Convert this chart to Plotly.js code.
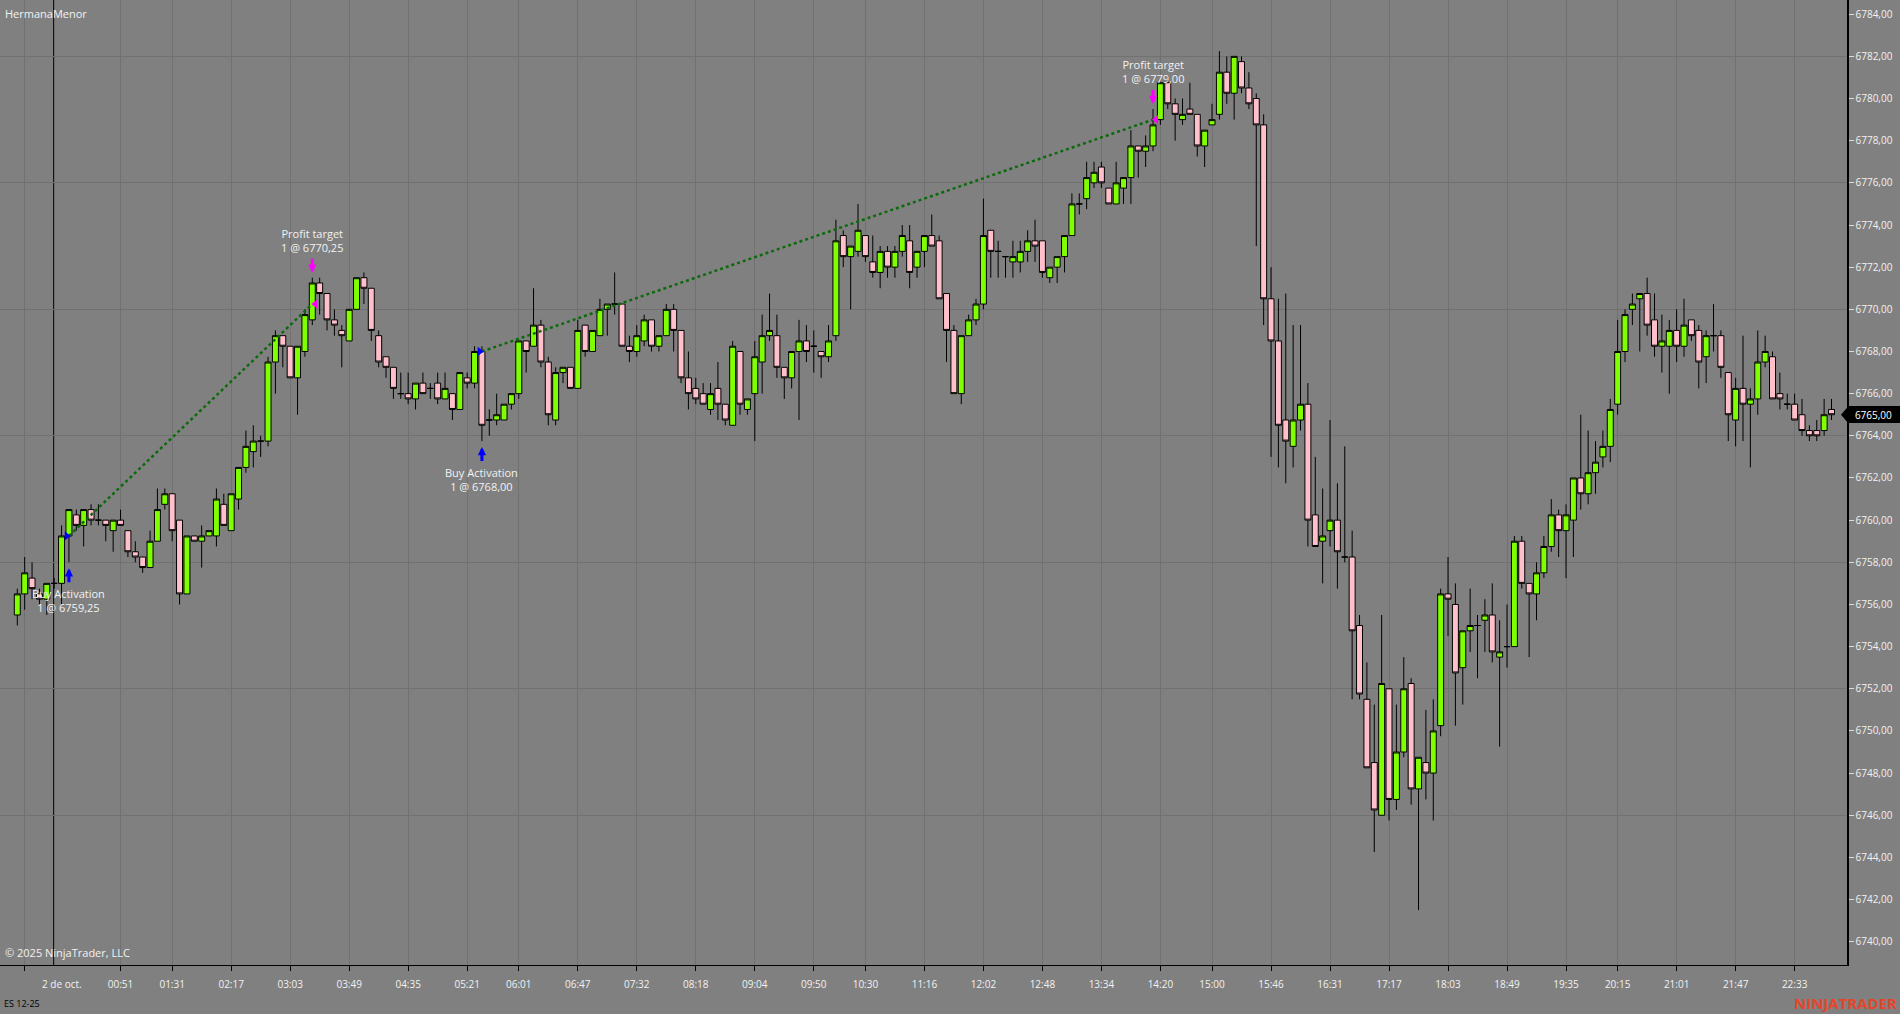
<!DOCTYPE html>
<html>
<head>
<meta charset="utf-8">
<script src="https://cdn.plot.ly/plotly-3.0.1.min.js"></script>
<style>html,body{margin:0;padding:0;background:#808080;overflow:hidden}</style>
</head>
<body>
<div id="chart" style="width:1900px;height:1014px"></div>
<script>
// ---- Data (ES 12-25, one candle per bar index) ----
const candleOpen = [
6755.5,6756.5,6757.25,6756.5,6756.25,6757.0,6757.0,6759.25,6760.25,6759.75,
6760.5,6760.0,6760.0,6759.5,6760.0,6759.5,6758.5,6758.25,6757.75,6759.0,
6760.75,6761.25,6760.0,6756.5,6759.25,6759.0,6759.25,6759.25,6760.75,6759.5,
6761.0,6762.5,6763.25,6763.75,6763.75,6767.5,6768.75,6768.25,6766.75,6768.0,
6769.5,6771.25,6770.75,6769.5,6769.0,6768.5,6770.0,6771.5,6771.0,6768.75,
6767.75,6767.25,6766.0,6766.0,6765.75,6766.5,6766.25,6766.5,6765.75,6766.0,
6765.25,6766.75,6766.5,6768.0,6764.75,6764.75,6764.75,6765.5,6766.0,6768.5,
6768.25,6769.25,6767.5,6764.75,6767.0,6767.25,6766.25,6769.25,6768.0,6768.75,
6770.0,6770.25,6770.25,6768.25,6768.0,6768.5,6769.5,6768.25,6768.75,6770.0,
6769.0,6766.75,6766.25,6766.0,6765.25,6766.25,6765.5,6764.5,6768.0,6765.25,
6766.0,6767.5,6768.75,6768.75,6767.25,6766.75,6768.0,6768.5,6768.25,6768.0,
6767.75,6768.75,6773.5,6772.5,6772.75,6773.5,6772.25,6771.75,6772.75,6772.0,
6772.75,6773.25,6772.0,6772.75,6773.5,6773.25,6770.75,6769.0,6766.0,6768.75,
6769.5,6770.25,6773.75,6772.75,6772.5,6772.25,6772.25,6772.75,6773.25,6773.25,
6771.5,6772.0,6772.5,6773.5,6775.0,6775.25,6776.0,6776.75,6775.75,6775.0,
6775.75,6776.25,6777.75,6777.5,6777.75,6779.0,6780.75,6779.75,6779.0,6779.5,
6779.25,6777.75,6778.75,6779.25,6781.25,6780.25,6781.75,6780.5,6780.0,6778.75,
6770.5,6768.5,6764.75,6763.5,6764.75,6765.5,6760.25,6759.0,6759.5,6760.0,
6758.25,6758.25,6755.0,6751.5,6748.5,6746.0,6752.0,6746.75,6749.0,6752.25,
6747.25,6748.5,6748.0,6750.25,6756.5,6756.0,6753.0,6754.75,6755.0,6755.25,
6755.5,6753.5,6754.0,6754.0,6759.0,6757.0,6756.5,6757.5,6758.75,6760.25,
6759.5,6760.0,6762.0,6761.25,6762.25,6763.0,6763.5,6765.5,6768.0,6770.0,
6770.5,6770.75,6769.5,6768.25,6768.25,6769.0,6768.25,6769.5,6769.0,6767.75,
6768.75,6768.75,6767.0,6764.75,6766.25,6765.5,6765.75,6767.5,6767.75,6766.0,
6765.5,6765.5,6765.0,6764.25,6764.25,6764.25,6765.25
];
const candleHigh = [
6756.75,6758.25,6758.0,6756.75,6757.0,6757.25,6759.75,6760.5,6760.5,6760.5,
6760.75,6760.75,6760.0,6760.0,6760.5,6759.5,6759.0,6758.25,6759.5,6761.5,
6761.5,6761.25,6760.0,6759.25,6759.25,6759.75,6759.5,6761.5,6761.25,6761.25,
6762.5,6764.25,6764.5,6764.0,6767.75,6769.0,6768.75,6768.25,6768.25,6770.0,
6771.5,6771.5,6770.75,6770.0,6769.25,6770.0,6771.5,6771.75,6771.0,6769.0,
6767.75,6767.25,6767.0,6767.0,6766.5,6767.0,6766.5,6767.0,6767.0,6766.0,
6767.0,6767.0,6768.25,6768.25,6765.25,6766.0,6765.5,6766.0,6768.5,6768.5,
6771.0,6769.5,6767.75,6767.25,6767.25,6767.25,6769.5,6769.25,6769.0,6770.5,
6770.25,6771.75,6770.25,6768.75,6769.25,6769.75,6769.5,6768.75,6770.25,6770.25,
6769.0,6768.0,6766.75,6766.5,6766.5,6767.5,6765.5,6768.5,6768.0,6765.75,
6768.5,6769.75,6770.75,6769.75,6767.25,6768.0,6769.5,6769.25,6769.0,6768.0,
6769.25,6774.25,6773.75,6773.0,6775.0,6773.5,6773.5,6773.0,6773.0,6773.0,
6774.0,6774.0,6772.75,6773.5,6774.5,6773.5,6770.75,6769.25,6768.75,6769.75,
6770.5,6775.25,6773.75,6773.25,6772.5,6773.25,6773.25,6773.75,6774.25,6773.25,
6772.0,6772.5,6773.5,6775.5,6775.5,6777.0,6777.0,6777.0,6775.75,6777.0,
6776.25,6778.5,6777.75,6778.25,6779.5,6780.75,6781.0,6780.0,6780.0,6780.75,
6779.25,6778.5,6779.75,6782.25,6782.0,6782.0,6782.0,6781.25,6780.25,6779.25,
6772.0,6770.5,6770.75,6769.25,6769.25,6766.5,6763.0,6761.5,6764.75,6761.75,
6763.5,6759.5,6755.5,6753.25,6751.25,6755.5,6752.0,6751.25,6753.5,6752.5,
6748.75,6751.0,6751.5,6756.75,6758.25,6757.0,6754.75,6756.75,6755.5,6756.25,
6757.0,6755.25,6756.0,6759.25,6759.25,6757.0,6758.0,6759.25,6761.0,6760.5,
6760.75,6762.0,6765.0,6764.25,6763.75,6764.25,6765.75,6769.5,6770.0,6770.75,
6770.75,6771.5,6770.75,6769.75,6769.5,6770.0,6770.5,6769.5,6769.25,6769.0,
6770.25,6769.0,6767.0,6766.75,6768.75,6766.25,6769.0,6768.75,6768.0,6767.0,
6766.0,6766.0,6765.75,6764.5,6764.75,6765.75,6765.75
];
const candleLow = [
6755.0,6755.75,6756.25,6756.0,6755.5,6756.75,6756.0,6758.0,6759.5,6758.75,
6759.75,6759.75,6759.0,6758.5,6759.75,6758.25,6758.0,6757.5,6757.75,6759.0,
6760.5,6759.0,6756.0,6756.5,6759.0,6757.75,6759.25,6758.75,6759.75,6759.5,
6760.5,6762.25,6762.5,6763.0,6763.5,6766.0,6767.25,6766.75,6765.0,6767.75,
6769.25,6769.75,6769.0,6768.75,6767.25,6768.5,6770.0,6770.25,6768.5,6767.25,
6766.75,6765.75,6765.75,6765.5,6765.25,6766.0,6765.75,6765.5,6765.75,6764.75,
6765.25,6766.25,6766.25,6763.75,6764.0,6764.5,6764.75,6765.25,6765.75,6767.0,
6768.25,6767.25,6764.5,6764.5,6766.5,6766.25,6766.25,6767.75,6768.0,6768.75,
6768.75,6769.75,6768.25,6767.5,6767.75,6768.25,6768.0,6768.0,6768.75,6768.0,
6766.5,6765.25,6765.5,6765.5,6765.0,6764.75,6764.5,6764.5,6765.0,6765.0,
6763.75,6766.0,6768.5,6766.75,6765.75,6766.25,6764.75,6767.5,6767.0,6766.75,
6767.5,6768.5,6772.0,6770.0,6772.5,6772.25,6771.5,6771.0,6771.5,6771.5,
6772.5,6771.0,6771.5,6772.0,6773.0,6770.5,6767.5,6766.0,6765.5,6768.75,
6769.25,6770.0,6771.5,6771.5,6771.5,6771.5,6771.75,6772.25,6772.25,6771.5,
6771.25,6771.25,6771.75,6773.5,6774.5,6774.75,6775.75,6775.75,6775.0,6775.0,
6775.0,6775.0,6776.25,6776.75,6777.5,6778.75,6779.5,6778.0,6778.75,6779.25,
6777.25,6776.75,6778.75,6779.0,6779.75,6779.0,6780.25,6779.5,6773.0,6769.25,
6763.0,6762.5,6761.75,6762.5,6764.25,6758.75,6758.75,6757.0,6758.75,6756.75,
6758.0,6751.5,6751.5,6748.25,6744.25,6746.0,6745.75,6746.25,6748.75,6746.5,
6741.5,6746.75,6745.75,6749.75,6754.5,6750.25,6751.25,6753.75,6752.5,6753.75,
6753.25,6749.25,6753.0,6754.0,6756.75,6753.5,6755.25,6757.25,6758.5,6758.25,
6757.25,6758.25,6760.5,6760.75,6761.25,6762.5,6762.75,6765.0,6767.5,6769.25,
6768.0,6768.75,6767.75,6767.0,6766.0,6767.5,6767.75,6768.5,6766.25,6766.5,
6768.0,6766.75,6763.75,6763.5,6763.75,6762.5,6765.0,6767.25,6765.75,6765.25,
6765.25,6764.75,6764.0,6763.75,6763.75,6764.0,6764.75
];
const candleClose = [
6756.5,6757.5,6756.75,6756.25,6757.0,6757.0,6759.25,6760.5,6759.75,6760.5,
6760.0,6760.0,6759.75,6760.0,6759.75,6758.5,6758.25,6757.75,6759.0,6760.5,
6761.25,6759.5,6756.5,6759.25,6759.0,6759.25,6759.5,6761.0,6759.75,6761.25,
6762.5,6763.5,6763.75,6763.75,6767.5,6768.75,6768.25,6766.75,6768.25,6769.75,
6771.25,6770.75,6769.5,6769.25,6768.75,6770.0,6771.5,6771.0,6769.0,6767.5,
6767.25,6766.25,6766.0,6765.75,6766.5,6766.0,6766.25,6765.75,6766.25,6765.25,
6767.0,6766.5,6768.0,6764.5,6764.75,6765.0,6765.5,6766.0,6768.5,6768.0,
6769.25,6767.5,6765.0,6767.0,6767.25,6766.25,6769.0,6768.0,6769.0,6770.0,
6770.25,6770.25,6768.25,6768.0,6768.75,6769.5,6768.25,6768.75,6770.0,6769.0,
6766.75,6766.0,6765.75,6765.5,6766.0,6765.5,6764.75,6768.25,6765.5,6765.75,
6767.75,6768.75,6769.0,6767.25,6766.75,6768.0,6768.5,6768.0,6768.25,6767.75,
6768.5,6773.25,6772.5,6773.0,6773.75,6772.5,6771.75,6772.75,6772.0,6772.75,
6773.5,6771.75,6772.75,6773.5,6773.0,6770.5,6769.0,6766.0,6768.75,6769.5,
6770.25,6773.5,6772.75,6772.75,6772.5,6772.5,6772.75,6773.25,6773.0,6771.75,
6772.0,6772.5,6773.5,6775.0,6775.0,6776.25,6776.5,6776.0,6775.0,6776.0,
6776.25,6777.75,6777.5,6777.75,6778.75,6780.75,6779.75,6779.25,6779.25,6779.25,
6777.75,6778.5,6779.0,6781.25,6780.25,6782.0,6780.5,6779.75,6778.75,6770.5,
6768.5,6764.5,6763.75,6764.75,6765.5,6760.0,6758.75,6759.25,6760.0,6758.5,
6758.25,6754.75,6751.75,6748.25,6746.25,6752.25,6746.75,6749.0,6752.0,6747.25,
6748.75,6748.0,6750.0,6756.5,6756.25,6752.75,6754.75,6755.0,6755.0,6755.5,
6753.75,6753.75,6754.0,6759.0,6757.0,6756.5,6757.5,6758.75,6760.25,6759.5,
6760.25,6762.0,6761.25,6762.25,6762.75,6763.5,6765.25,6768.0,6769.75,6770.25,
6770.75,6769.25,6768.25,6768.5,6769.0,6768.25,6769.25,6768.75,6767.5,6768.75,
6768.75,6767.25,6765.0,6766.25,6765.5,6765.75,6767.5,6768.0,6765.75,6765.75,
6765.5,6764.75,6764.25,6764.0,6764.0,6765.0,6765.0
];

// x-axis ticks (bar index -> time label)
const xTickBars = [1,14,21,29,37,45,53,61,68,76,84,92,100,108,115,123,131,139,147,155,162,170,178,186,194,202,210,217,225,233,241];
const xTickLabels = ['','00:51','01:31','02:17','03:03','03:49','04:35','05:21','06:01','06:47','07:32','08:18','09:04','09:50','10:30','11:16','12:02','12:48','13:34','14:20','15:00','15:46','16:31','17:17','18:03','18:49','19:35','20:15','21:01','21:47','22:33'];
const dateLabel = '2 de oct.';
const dateLabelBar = 6;
const sessionBreakBar = 4.93;

// y-axis
const yTickValues = [6740,6742,6744,6746,6748,6750,6752,6754,6756,6758,6760,6762,6764,6766,6768,6770,6772,6774,6776,6778,6780,6782,6784];
const yGridValues = [6746,6752,6758,6764,6770,6776,6782];

// executions
const entryBars = [7, 63];
const entryPrices = [6759.25, 6768.00];
const exitBars = [40, 154];
const exitPrices = [6770.25, 6779.00];
const tradeQty = [1, 1];
const entryName = 'Buy Activation';
const exitName = 'Profit target';

// texts
const instrumentLabel = 'ES 12-25';
const indicatorLabel = 'HermanaMenor';
const copyrightLabel = '\u00a9 2025 NinjaTrader, LLC';
const brandLabel = 'NINJATRADER';

// ---- Build ----
const fmt = v => v.toFixed(2).replace('.', ',');
const barIndex = candleOpen.map((_, i) => i);
const nBars = candleOpen.length;
const lastClose = candleClose[nBars - 1];

const xMin = -2.346, xMax = 248.10;
const yMax = 6784.674, yMin = 6738.896;

const gridColor = '#717171';
const textColor = '#f2f2f2';
const fontFamily = 'Open Sans, sans-serif';

const traces = [{
  type: 'candlestick',
  x: barIndex, open: candleOpen, high: candleHigh, low: candleLow, close: candleClose,
  increasing: {fillcolor: '#80FF00', line: {color: '#000000', width: 1}},
  decreasing: {fillcolor: '#FFC0CB', line: {color: '#000000', width: 1}},
  whiskerwidth: 0, hoverinfo: 'skip', showlegend: false
}];

entryBars.forEach((b, k) => {
  traces.push({
    type: 'scatter', mode: 'lines', yaxis: 'y2',
    x: [b, exitBars[k]], y: [entryPrices[k], exitPrices[k]],
    line: {color: '#0c6a0c', width: 2.5, dash: 'dot'},
    hoverinfo: 'skip', showlegend: false
  });
});
traces.push({
  type: 'scatter', mode: 'markers', yaxis: 'y2',
  x: entryBars.map(b => b - 0.3), y: entryPrices,
  marker: {symbol: 'triangle-right', size: 8, color: '#0000ff'},
  hoverinfo: 'skip', showlegend: false
});
traces.push({
  type: 'scatter', mode: 'markers', yaxis: 'y2',
  x: exitBars.map(b => b + 0.4), y: exitPrices,
  marker: {symbol: 'triangle-left', size: 8, color: '#ff00ff'},
  hoverinfo: 'skip', showlegend: false
});

const arrowFont = {size: 1, color: 'rgba(0,0,0,0)'};
const annotations = [];
entryBars.forEach((b, k) => {
  annotations.push({
    x: b, y: candleLow[b], xref: 'x', yref: 'y', text: ' ', font: arrowFont, borderpad: 0,
    showarrow: true, ax: 0, ay: 15, arrowhead: 2, arrowsize: 0.55, arrowwidth: 3,
    arrowcolor: '#0000ff', standoff: 0, startstandoff: 0, yshift: -6
  });
  annotations.push({
    x: b, y: candleLow[b], xref: 'x', yref: 'y', yanchor: 'top', yshift: -22,
    text: entryName + '<br>' + tradeQty[k] + ' @ ' + fmt(entryPrices[k]),
    showarrow: false, font: {family: fontFamily, size: 11, color: textColor}
  });
});
exitBars.forEach((b, k) => {
  annotations.push({
    x: b, y: candleHigh[b], xref: 'x', yref: 'y', text: ' ', font: arrowFont, borderpad: 0,
    showarrow: true, ax: 0, ay: -15, arrowhead: 2, arrowsize: 0.55, arrowwidth: 3,
    arrowcolor: '#ff00ff', standoff: 0, startstandoff: 0, yshift: 5
  });
  annotations.push({
    x: b, y: candleHigh[b], xref: 'x', yref: 'y', yanchor: 'bottom', yshift: 21,
    text: exitName + '<br>' + tradeQty[k] + ' @ ' + fmt(exitPrices[k]),
    showarrow: false, font: {family: fontFamily, size: 11, color: textColor}
  });
});
annotations.push({
  xref: 'paper', yref: 'paper', x: 0, y: 1, xanchor: 'left', yanchor: 'middle',
  xshift: 3, yshift: -13, text: indicatorLabel, showarrow: false,
  font: {family: fontFamily, size: 11, color: textColor}
});
annotations.push({
  xref: 'paper', yref: 'paper', x: 0, y: 0, xanchor: 'left', yanchor: 'middle',
  xshift: 3, yshift: 13, text: copyrightLabel, showarrow: false,
  font: {family: fontFamily, size: 11, color: textColor}
});
annotations.push({
  xref: 'paper', yref: 'paper', x: 0, y: 0, xanchor: 'left', yanchor: 'middle',
  xshift: 2, yshift: -38, text: instrumentLabel, showarrow: false,
  font: {family: fontFamily, size: 9, color: '#000000'}
});
annotations.push({
  xref: 'paper', yref: 'paper', x: 1, y: 0, xanchor: 'right', yanchor: 'middle',
  xshift: 52, yshift: -38, text: '<b>' + brandLabel + '</b>', showarrow: false,
  font: {family: fontFamily, size: 15, color: '#e5452b'}
});
annotations.push({
  xref: 'x', yref: 'paper', x: dateLabelBar, y: 0, xanchor: 'center', yanchor: 'middle',
  yshift: -19, text: dateLabel, showarrow: false,
  font: {family: fontFamily, size: 10, color: textColor}
});
annotations.push({
  xref: 'paper', yref: 'y', x: 1, y: lastClose, xanchor: 'left', yanchor: 'middle',
  text: fmt(lastClose), showarrow: false, bgcolor: '#000000', bordercolor: '#000000',
  borderwidth: 1, borderpad: 1, width: 49, height: 13,
  font: {family: fontFamily, size: 10, color: '#ffffff'}
});

const pxX = 1 / 1847;
const pxY = (yMax - yMin) / 965;
const shapes = [
  {type: 'line', xref: 'x', yref: 'paper', x0: sessionBreakBar, x1: sessionBreakBar, y0: 0, y1: 1,
   line: {color: '#000000', width: 1}, layer: 'below'},
  {type: 'path', xref: 'paper', yref: 'y',
   path: 'M ' + (1 - 6 * pxX) + ',' + lastClose + ' L 1,' + (lastClose + 7 * pxY) + ' L 1,' + (lastClose - 7 * pxY) + ' Z',
   fillcolor: '#000000', line: {width: 0}, layer: 'above'}
];

const layout = {
  width: 1900, height: 1014,
  paper_bgcolor: '#808080', plot_bgcolor: '#808080',
  margin: {l: 0, r: 53, t: 0, b: 49, pad: 0},
  showlegend: false, hovermode: false,
  separators: ',.',
  boxgap: 0.1, boxgroupgap: 0.1,
  font: {family: fontFamily, size: 10, color: textColor},
  xaxis: {
    range: [xMin, xMax], tickmode: 'array', tickvals: xTickBars, ticktext: xTickLabels,
    showgrid: true, gridcolor: gridColor, gridwidth: 1, zeroline: false,
    showline: true, linecolor: '#000000', linewidth: 1,
    ticks: 'outside', ticklen: 5, tickcolor: '#000000', tickwidth: 1,
    ticklabelstandoff: 5,
    tickfont: {family: fontFamily, size: 10, color: textColor},
    rangeslider: {visible: false}, fixedrange: true
  },
  yaxis: {
    range: [yMin, yMax], side: 'right', tickmode: 'array', tickvals: yTickValues,
    tickformat: '.2f', showgrid: false, zeroline: false,
    showline: true, linecolor: '#000000', linewidth: 1.5,
    ticks: 'outside', ticklen: 5, tickcolor: '#dcdcdc', tickwidth: 1,
    tickfont: {family: fontFamily, size: 10, color: textColor}, fixedrange: true
  },
  yaxis2: {
    overlaying: 'y', side: 'right', range: [yMin, yMax], tickmode: 'array', tickvals: yGridValues,
    showticklabels: false, ticks: '', showgrid: true, gridcolor: gridColor, gridwidth: 1,
    zeroline: false, showline: false, fixedrange: true
  },
  shapes: shapes,
  annotations: annotations
};

Plotly.newPlot('chart', traces, layout, {staticPlot: true, displayModeBar: false});
</script>
</body>
</html>
